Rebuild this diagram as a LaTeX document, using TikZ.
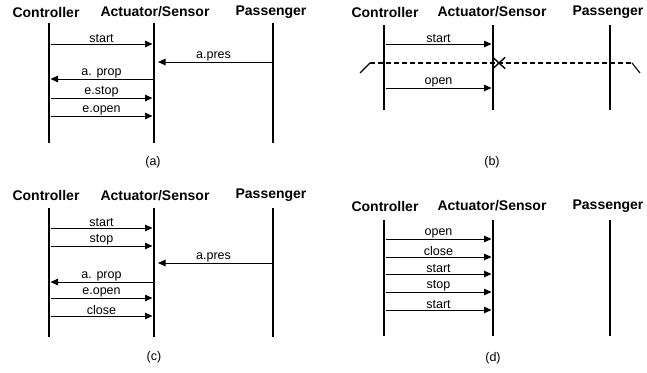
\documentclass[tikz,border=0pt]{standalone}
\usepackage{fontspec}
\setmainfont{Liberation Sans}
\usetikzlibrary{arrows.meta,shapes.misc}
\tikzset{
  head/.style={font=\fontsize{14}{16}\selectfont\bfseries,inner sep=1pt},
  life/.style={line width=1.2pt},
  msg/.style={line width=1pt,-{Triangle[length=7.5pt,width=6.5pt]},shorten <=1.5pt,shorten >=1.5pt},
  lbl/.style={font=\fontsize{12.5}{14}\selectfont,above,inner sep=0.6pt},
  subcap/.style={font=\fontsize{12.5}{14}\selectfont}
}
\begin{document}
\begin{tikzpicture}[x=1pt,y=-1pt]
\useasboundingbox (0,0) rectangle (647,372);
% (a): top left
\begin{scope}
\node[head] (aC) at (46,12) {Controller};
\node[head] (aA) at (155,12) {Actuator/Sensor};
\node[head] (aP) at (271,12) {Passenger};
\coordinate (aC1) at (49,23);  \coordinate (aC2) at (49,143);
\coordinate (aA1) at (154,23); \coordinate (aA2) at (154,143);
\coordinate (aP1) at (273,23); \coordinate (aP2) at (273,143);
\draw[life] (aC1) -- (aC2);
\draw[life] (aA1) -- (aA2);
\draw[life] (aP1) -- (aP2);
\foreach \y/\lab in {44/start,98/e.stop,116/e.open}
  \draw[msg] (aC1 |- 0,\y) -- (aA1 |- 0,\y) node[midway,lbl] {\lab};
\draw[msg,shorten >=4pt] (aP1 |- 0,62) -- (aA1 |- 0,62) node[midway,lbl] {a.pres};
\draw[msg,shorten <=0pt] (aA1 |- 0,79) -- (aC1 |- 0,79) node[midway,lbl] {a. prop};
\node[subcap] (aL) at (153,162) {(a)};
\end{scope}
% (b): top right
\begin{scope}
\node[head] (bC) at (385,12) {Controller};
\node[head] (bA) at (492,12) {Actuator/Sensor};
\node[head] (bP) at (608,12) {Passenger};
\coordinate (bC1) at (384,25); \coordinate (bC2) at (384,110);
\coordinate (bA1) at (493,25); \coordinate (bA2) at (493,110);
\coordinate (bP1) at (610,25); \coordinate (bP2) at (610,110);
\draw[life] (bC1) -- (bC2);
\draw[life] (bA1) -- (bA2);
\draw[life] (bP1) -- (bP2);
\draw[msg] (bC1 |- 0,44) -- (bA1 |- 0,44) node[midway,lbl] {start};
\draw[msg] (bC1 |- 0,88) -- (bA1 |- 0,88) node[midway,lbl] {open};
% crash line
\coordinate (bL1) at (360,73); \coordinate (bL2) at (370,63);
\coordinate (bR2) at (632,63); \coordinate (bR1) at (640,73);
\draw[line width=1.1pt] (bL1) -- (bL2);
\draw[line width=1.1pt,dash pattern=on 5pt off 3pt] (bL2) -- (bR2);
\draw[line width=1.1pt] (bR2) -- (bR1);
\node[draw,cross out,line width=1.4pt,minimum width=11pt,minimum height=10pt,inner sep=0pt] (bX) at (499,63) {};
\node[subcap] (bL) at (492,162) {(b)};
\end{scope}
% (c): bottom left
\begin{scope}
\node[head] (cC) at (46,195.5) {Controller};
\node[head] (cA) at (155,195.5) {Actuator/Sensor};
\node[head] (cP) at (271,195.5) {Passenger};
\coordinate (cC1) at (49,208);  \coordinate (cC2) at (49,337);
\coordinate (cA1) at (154,208); \coordinate (cA2) at (154,337);
\coordinate (cP1) at (273,208); \coordinate (cP2) at (273,337);
\draw[life] (cC1) -- (cC2);
\draw[life] (cA1) -- (cA2);
\draw[life] (cP1) -- (cP2);
\foreach \y/\lab in {228/start,246/stop,298/e.open,316/close}
  \draw[msg] (cC1 |- 0,\y) -- (cA1 |- 0,\y) node[midway,lbl] {\lab};
\draw[msg,shorten >=4pt] (cP1 |- 0,263) -- (cA1 |- 0,263) node[midway,lbl] {a.pres};
\draw[msg,shorten <=0pt] (cA1 |- 0,282) -- (cC1 |- 0,282) node[midway,lbl] {a. prop};
\node[subcap] (cL) at (154,357) {(c)};
\end{scope}
% (d): bottom right
\begin{scope}
\node[head] (dC) at (385,206) {Controller};
\node[head] (dA) at (492,206) {Actuator/Sensor};
\node[head] (dP) at (608,206) {Passenger};
\coordinate (dC1) at (384,220); \coordinate (dC2) at (384,336);
\coordinate (dA1) at (493,220); \coordinate (dA2) at (493,336);
\coordinate (dP1) at (610,220); \coordinate (dP2) at (610,336);
\draw[life] (dC1) -- (dC2);
\draw[life] (dA1) -- (dA2);
\draw[life] (dP1) -- (dP2);
\foreach \y/\lab in {239/open,257/close,274/start,292/stop,310/start}
  \draw[msg] (dC1 |- 0,\y) -- (dA1 |- 0,\y) node[midway,lbl] {\lab};
\node[subcap] (dL) at (493,358) {(d)};
\end{scope}
\end{tikzpicture}
\end{document}
